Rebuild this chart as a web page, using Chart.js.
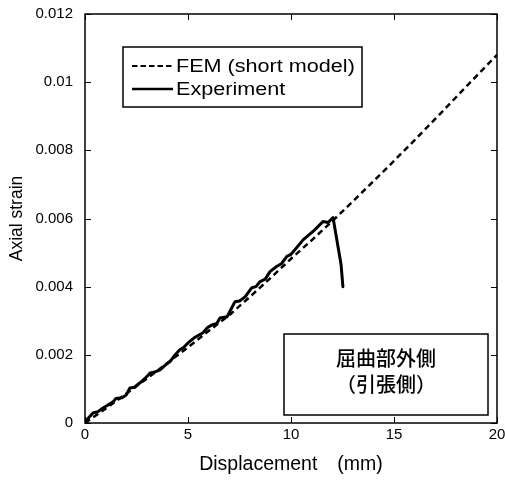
<!DOCTYPE html>
<html><head><meta charset="utf-8">
<script src="https://cdn.jsdelivr.net/npm/chart.js@4"></script>
<style>html,body{margin:0;padding:0;background:#fff;} #wrap{width:505px;height:483px;position:relative;}</style>
</head><body><div id="wrap"><canvas id="c"></canvas></div>
<script>
// ---- data ----
const femX = [0,1,2,3,4,5,6,7,8,9,10,11,12,13,14,15,16,17,18,19,20];
const femY = [0,0.00042,0.00086,0.0013,0.00176,0.00222,0.0027,0.00316,0.0037,0.00425,0.00482,0.00536,0.00592,0.0065,0.00709,0.00769,0.0083,0.00892,0.00955,0.01018,0.0108];
const expX = [0,0.1,0.4,0.6,0.87,1.1,1.36,1.5,1.8,2.0,2.18,2.4,2.67,2.9,3.16,3.4,3.64,3.9,4.13,4.35,4.6,4.8,5.0,5.3,5.73,5.95,6.17,6.4,6.55,6.9,7.1,7.28,7.5,7.77,8.1,8.3,8.5,8.75,8.98,9.3,9.55,9.8,10.0,10.2,10.6,11.07,11.55,11.8,12.04,12.43,12.52];
const expY = [0,0.0001,0.0003,0.00032,0.00044,0.00052,0.00062,0.00072,0.00074,0.00082,0.00103,0.00105,0.00118,0.0013,0.00147,0.0015,0.00156,0.0017,0.0018,0.00198,0.00215,0.00222,0.00235,0.0025,0.00265,0.0028,0.00288,0.00292,0.00308,0.00312,0.00335,0.00356,0.00358,0.0037,0.00397,0.004,0.00415,0.00422,0.00444,0.00459,0.00468,0.00489,0.00495,0.00509,0.00538,0.00562,0.00591,0.00588,0.00603,0.00465,0.0040];
const xTicks = [0,5,10,15,20];
const yTicks = [0,0.002,0.004,0.006,0.008,0.01,0.012];
const yTickLabels = ['0','0.002','0.004','0.006','0.008','0.01','0.012'];
const seriesNames = ['FEM (short model)','Experiment'];
const xTitle = 'Displacement\u3000(mm)';
const yTitle = 'Axial strain';
const noteLines = ['屈曲部外側','（引張側）'];

const FONT = '"Liberation Sans", Arial, sans-serif';
const CJK = '"Noto Sans CJK JP", sans-serif';

const styles = [
  {borderColor:'#000', borderWidth:2.5, borderDash:[6,4]},
  {borderColor:'#000', borderWidth:3, borderDash:[]}
];

const decor = {
  id:'decor',
  afterDraw(chart){
    const {ctx, chartArea:a, scales:{x,y}} = chart;
    ctx.save();
    ctx.strokeStyle='#000';
    // inward ticks on all four sides
    const tl=6;
    ctx.lineWidth=1;
    ctx.beginPath();
    xTicks.forEach(v=>{const px=Math.round(x.getPixelForValue(v))+0.5;
      ctx.moveTo(px,a.bottom); ctx.lineTo(px,a.bottom-tl);
      ctx.moveTo(px,a.top); ctx.lineTo(px,a.top+tl);});
    yTicks.forEach(v=>{const py=Math.round(y.getPixelForValue(v))+0.5;
      ctx.moveTo(a.left,py); ctx.lineTo(a.left+tl,py);
      ctx.moveTo(a.right,py); ctx.lineTo(a.right-tl,py);});
    ctx.stroke();
    // frame
    ctx.lineWidth=1.5;
    ctx.strokeRect(a.left, a.top, a.right-a.left, a.bottom-a.top);
    // legend
    const lb={l:123,t:47,r:362,b:107};
    ctx.fillStyle='#fff';
    ctx.fillRect(lb.l,lb.t,lb.r-lb.l,lb.b-lb.t);
    ctx.lineWidth=1.5;
    ctx.strokeRect(lb.l,lb.t,lb.r-lb.l,lb.b-lb.t);
    const rows=[66,89];
    chart.data.datasets.forEach((ds,i)=>{
      ctx.save();
      ctx.lineWidth = i===0 ? 2 : 2.5;
      ctx.setLineDash(i===0 ? [5.5,3] : []);
      ctx.beginPath(); ctx.moveTo(132,rows[i]); ctx.lineTo(173,rows[i]); ctx.stroke();
      ctx.restore();
      ctx.save();
      ctx.fillStyle='#000';
      ctx.font='18px '+FONT;
      ctx.textBaseline='middle'; ctx.textAlign='left';
      ctx.translate(176,rows[i]+1);
      ctx.scale(1.2,1);
      ctx.fillText(ds.label,0,0);
      ctx.restore();
    });
    // note box
    const nb={l:284,t:334,r:488,b:415};
    ctx.fillStyle='#fff';
    ctx.fillRect(nb.l,nb.t,nb.r-nb.l,nb.b-nb.t);
    ctx.lineWidth=1.5;
    ctx.strokeRect(nb.l,nb.t,nb.r-nb.l,nb.b-nb.t);
    ctx.fillStyle='#000';
    ctx.font='500 20px '+CJK;
    ctx.textAlign='center'; ctx.textBaseline='middle';
    ctx.fillText(noteLines[0],(nb.l+nb.r)/2,358);
    ctx.fillText(noteLines[1],(nb.l+nb.r)/2,384);
    ctx.restore();
  }
};

new Chart(document.getElementById('c'),{
  type:'line',
  data:{datasets:[
    {label:seriesNames[0], data:femX.map((v,i)=>({x:v,y:femY[i]})), ...styles[0], pointRadius:0, fill:false, tension:0},
    {label:seriesNames[1], data:expX.map((v,i)=>({x:v,y:expY[i]})), ...styles[1], pointRadius:0, fill:false, tension:0, borderJoinStyle:'round', borderCapStyle:'round'}
  ]},
  options:{
    responsive:true, maintainAspectRatio:false, animation:false,
    layout:{padding:{top:14,right:8,left:0,bottom:0}},
    plugins:{legend:{display:false}, tooltip:{enabled:false}},
    scales:{
      x:{type:'linear', min:0, max:20,
        afterBuildTicks(s){ s.ticks = xTicks.map(v=>({value:v})); },
        afterFit(s){ s.height=60; s.paddingLeft=0; s.paddingRight=0; },
        grid:{display:false, drawTicks:false}, border:{display:false},
        ticks:{padding:3, color:'#000', font:{family:FONT,size:15}, maxRotation:0, autoSkip:false},
        title:{display:true, text:xTitle, color:'#000', font:{family:FONT,size:19.5}, padding:{top:0,bottom:7}}
      },
      y:{type:'linear', min:0, max:0.012,
        afterBuildTicks(s){ s.ticks = yTicks.map(v=>({value:v})); },
        afterFit(s){ s.width=85; s.paddingTop=0; s.paddingBottom=0; },
        grid:{display:false, drawTicks:false}, border:{display:false},
        ticks:{padding:12, color:'#000', font:{family:FONT,size:15}, autoSkip:false,
          callback:(v)=>{const i=yTicks.findIndex(t=>Math.abs(t-v)<1e-9); return i>=0?yTickLabels[i]:'';}},
        title:{display:true, text:yTitle, color:'#000', font:{family:FONT,size:17.5}, padding:{top:7,bottom:0}}
      }
    }
  },
  plugins:[decor]
});
</script>
</body></html>
